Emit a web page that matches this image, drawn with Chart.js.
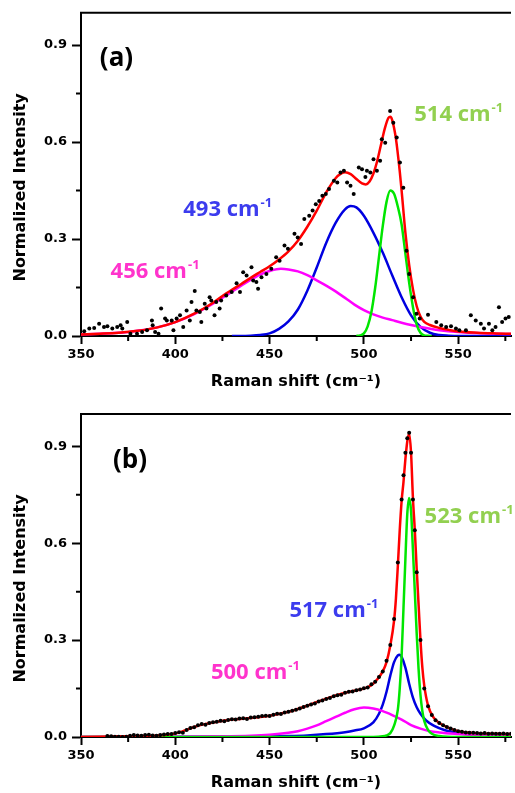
<!DOCTYPE html>
<html lang="en">
<head>
<meta charset="UTF-8">
<title>Raman spectra</title>
<script src="https://cdn.jsdelivr.net/npm/chart.js"></script>
<style>
  html, body { margin: 0; padding: 0; background: #fff; }
  #wrap { position: relative; width: 515px; height: 793px; overflow: hidden; }
  canvas { position: absolute; left: 0; }
  #chartA { top: 0; }
  #chartB { top: 397px; }
</style>
</head>
<body>
<div id="wrap">
  <canvas id="chartA" width="515" height="397"></canvas>
  <canvas id="chartB" width="515" height="396"></canvas>
</div>
<script>
// ---- panel (a) ----
const dotAx = [351.7, 354.4, 357.0, 359.6, 362.2, 364.0, 366.6, 369.2, 371.0, 371.9,
  374.5, 376.2, 379.7, 382.4, 385.0, 387.6, 388.0, 389.3, 391.1, 392.5,
  394.6, 395.5, 398.1, 399.0, 400.7, 402.5, 404.2, 406.0, 407.7, 408.6,
  410.3, 411.2, 413.0, 413.8, 415.6, 416.5, 418.2, 419.1, 420.8, 421.7,
  423.5, 424.3, 427.0, 429.9, 432.5, 434.3, 436.0, 437.8, 440.4, 441.3,
  443.0, 443.9, 445.7, 448.3, 450.9, 453.5, 455.3, 457.9, 459.7, 463.2,
  464.9, 466.7, 468.4, 471.0, 472.8, 474.5, 476.3, 478.0, 479.8, 481.5,
  484.1, 485.9, 487.6, 489.4, 491.1, 492.9, 494.6, 497.3, 499.0, 500.8,
  501.6, 503.4, 505.1, 506.9, 508.6, 509.5, 511.3, 513.9, 515.6, 517.4,
  519.1, 520.9, 522.6, 524.0, 526.1, 527.9, 529.6, 534.0, 538.4, 541.0,
  543.6, 546.2, 548.8, 550.6, 554.1, 556.7, 559.3, 562.0, 563.7, 566.3,
  568.1, 569.8, 571.6, 573.3, 575.1, 576.8];
const dotAy = [0.015, 0.023, 0.025, 0.038, 0.028, 0.030, 0.023, 0.028, 0.033, 0.023,
  0.043, 0.007, 0.007, 0.012, 0.018, 0.048, 0.033, 0.012, 0.007, 0.085,
  0.054, 0.048, 0.048, 0.018, 0.054, 0.064, 0.028, 0.079, 0.048, 0.105,
  0.139, 0.079, 0.074, 0.043, 0.100, 0.085, 0.120, 0.110, 0.064, 0.105,
  0.085, 0.110, 0.125, 0.136, 0.163, 0.136, 0.197, 0.187, 0.213, 0.172,
  0.167, 0.146, 0.182, 0.192, 0.208, 0.244, 0.233, 0.280, 0.270, 0.316,
  0.305, 0.285, 0.362, 0.372, 0.388, 0.408, 0.418, 0.434, 0.439, 0.455,
  0.480, 0.475, 0.506, 0.511, 0.475, 0.465, 0.439, 0.521, 0.516, 0.492,
  0.511, 0.506, 0.547, 0.511, 0.542, 0.609, 0.598, 0.696, 0.660, 0.614,
  0.537, 0.459, 0.264, 0.192, 0.120, 0.069, 0.054, 0.066, 0.043, 0.033,
  0.028, 0.030, 0.023, 0.018, 0.018, 0.064, 0.048, 0.038, 0.023, 0.038,
  0.018, 0.028, 0.089, 0.043, 0.054, 0.059];

const fitAx = [350, 360, 370, 380, 390, 400, 410, 420, 425, 430, 435, 440, 445, 450, 455,
  460, 465, 470, 475, 480, 485, 488, 490, 493, 496, 499, 501, 503, 505, 507,
  509, 511, 513, 514, 515, 517, 519, 520, 522, 524, 526, 528, 530, 532, 535,
  540, 545, 550, 560, 570, 578];
const fitAy = [0.005, 0.007, 0.010, 0.016, 0.026, 0.043, 0.069, 0.103, 0.124, 0.143, 0.161, 0.180, 0.198, 0.216, 0.237,
  0.262, 0.295, 0.338, 0.388, 0.444, 0.488, 0.503, 0.507, 0.501, 0.486, 0.472, 0.469, 0.478, 0.502, 0.540,
  0.590, 0.640, 0.675, 0.678, 0.668, 0.610, 0.510, 0.450, 0.320, 0.220, 0.145, 0.092, 0.060, 0.044, 0.034,
  0.025, 0.019, 0.014, 0.010, 0.008, 0.007];

const pinkAx = [350, 360, 370, 375, 380, 390, 400, 410, 420, 430, 440, 445, 450, 456, 460, 465, 470,
  475, 480, 485, 490, 495, 500, 505, 510, 515, 520, 525, 530, 540, 550, 560, 570, 578];
const pinkAy = [0.005, 0.007, 0.010, 0.012, 0.016, 0.026, 0.043, 0.068, 0.100, 0.137, 0.174, 0.190, 0.201, 0.208, 0.206, 0.200, 0.188,
  0.172, 0.156, 0.138, 0.118, 0.097, 0.080, 0.067, 0.057, 0.049, 0.041, 0.034, 0.028, 0.018, 0.012, 0.009, 0.007, 0.006];

const blueAx = [430, 440, 445, 450, 455, 460, 465, 470, 475, 480, 485, 490, 493, 496, 500,
  505, 510, 515, 520, 525, 530, 535, 540, 545, 550, 578];
const blueAy = [0, 0.001, 0.003, 0.008, 0.022, 0.045, 0.082, 0.140, 0.212, 0.288, 0.350, 0.392, 0.402, 0.398, 0.372,
  0.320, 0.258, 0.188, 0.120, 0.064, 0.028, 0.010, 0.003, 0.001, 0, 0];

const greenAx = [496, 498, 500, 502, 504, 506, 508, 510, 512, 514, 516, 518, 520, 522, 524, 526, 528, 530, 532, 534, 536];
const greenAy = [0, 0.002, 0.008, 0.030, 0.075, 0.150, 0.245, 0.340, 0.415, 0.450, 0.440, 0.400, 0.345, 0.255, 0.165, 0.090, 0.035, 0.010, 0.002, 0.001, 0];

// ---- panel (b) ----
const dotBx = [364, 366, 368, 370, 372, 374, 376, 378, 380, 382,
  384, 386, 388, 390, 392, 394, 396, 398, 400, 402,
  404, 406, 408, 410, 412, 414, 416, 418, 420, 422,
  424, 426, 428, 430, 432, 434, 436, 438, 440, 442,
  444, 446, 448, 450, 452, 454, 456, 458, 460, 462,
  464, 466, 468, 470, 472, 474, 476, 478, 480, 482,
  484, 486, 488, 490, 492, 494, 496, 498, 500, 502,
  504, 506, 508, 510, 512, 514, 516, 518,
  520, 521, 522, 523, 524, 525, 526, 527, 528,
  530, 532, 534, 536, 538, 540, 542, 544, 546, 548,
  550, 552, 554, 556, 558, 560, 562, 564, 566, 568,
  570, 572, 574, 576, 578];
const dotBy = [0.003, 0.002, 0.001, 0.001, 0.000, 0.001, 0.004, 0.006, 0.005, 0.004,
  0.006, 0.007, 0.005, 0.004, 0.006, 0.008, 0.009, 0.009, 0.012, 0.015,
  0.013, 0.022, 0.028, 0.030, 0.036, 0.040, 0.038, 0.043, 0.046, 0.047,
  0.050, 0.049, 0.053, 0.055, 0.054, 0.057, 0.058, 0.056, 0.060, 0.061,
  0.063, 0.065, 0.066, 0.065, 0.069, 0.072, 0.071, 0.076, 0.078, 0.081,
  0.084, 0.088, 0.093, 0.097, 0.101, 0.104, 0.110, 0.113, 0.118, 0.121,
  0.126, 0.129, 0.131, 0.137, 0.140, 0.141, 0.145, 0.147, 0.151, 0.153,
  0.163, 0.171, 0.186, 0.203, 0.236, 0.285, 0.365, 0.540,
  0.735, 0.810, 0.880, 0.925, 0.942, 0.880, 0.735, 0.640, 0.510,
  0.300, 0.150, 0.095, 0.068, 0.052, 0.043, 0.036, 0.031, 0.026, 0.022,
  0.018, 0.016, 0.014, 0.013, 0.013, 0.012, 0.011, 0.012, 0.010, 0.011,
  0.010, 0.010, 0.011, 0.009, 0.010];

const fitBx = [350, 370, 380, 390, 400, 405, 410, 415, 420, 430, 440, 450, 460, 470, 480, 490,
  500, 504, 507, 510, 512, 514, 516, 517, 518, 519, 520, 521, 522, 523, 524, 525,
  526, 527, 528, 529, 530, 531, 532, 534, 537, 540, 545, 550, 560, 570, 578];
const fitBy = [0.000, 0.002, 0.003, 0.005, 0.011, 0.020, 0.031, 0.039, 0.045, 0.054, 0.059, 0.066, 0.078, 0.097, 0.119, 0.137,
  0.150, 0.160, 0.178, 0.203, 0.232, 0.283, 0.360, 0.430, 0.530, 0.640, 0.730, 0.790, 0.860, 0.915, 0.940, 0.880,
  0.740, 0.640, 0.520, 0.410, 0.300, 0.215, 0.160, 0.098, 0.060, 0.043, 0.028, 0.018, 0.012, 0.010, 0.009];

const pinkBx = [350, 400, 420, 440, 450, 460, 465, 470, 475, 480, 485, 490, 495, 500, 505, 510,
  515, 520, 525, 530, 535, 540, 550, 560, 570, 578];
const pinkBy = [0.000, 0.001, 0.002, 0.004, 0.007, 0.013, 0.018, 0.026, 0.036, 0.049, 0.062, 0.075, 0.086, 0.091, 0.088, 0.080,
  0.068, 0.054, 0.037, 0.026, 0.018, 0.014, 0.009, 0.005, 0.003, 0.002];

const blueBx = [350, 420, 450, 460, 470, 480, 490, 495, 500, 505, 508, 510, 512, 514, 516, 518, 519, 520,
  522, 524, 526, 528, 530, 533, 537, 543, 550, 560, 570, 578];
const blueBy = [0, 0.001, 0.002, 0.003, 0.005, 0.009, 0.015, 0.020, 0.027, 0.045, 0.072, 0.100, 0.140, 0.190, 0.232, 0.253, 0.255, 0.248,
  0.215, 0.165, 0.122, 0.092, 0.072, 0.051, 0.035, 0.021, 0.014, 0.009, 0.006, 0.005];

const greenBx = [350, 505, 510, 512, 514, 516, 518, 519, 520, 521, 522, 523, 524, 525, 526, 527,
  528, 529, 530, 531, 532, 534, 536, 540, 550, 578];
const greenBy = [0, 0, 0.002, 0.005, 0.012, 0.035, 0.085, 0.150, 0.250, 0.400, 0.550, 0.690, 0.740, 0.700, 0.580, 0.450,
  0.320, 0.210, 0.130, 0.080, 0.050, 0.022, 0.010, 0.003, 0, 0];

const xTicksMinor = [375, 425, 475, 525, 575];
const yTicksMinor = [0.15, 0.45, 0.75];

const pts = (xs, ys) => xs.map((x, i) => ({ x: x, y: ys[i] }));

function curve(xs, ys, color) {
  return {
    data: pts(xs, ys),
    borderColor: color,
    borderWidth: 2.5,
    pointRadius: 0,
    fill: false,
    cubicInterpolationMode: 'monotone'
  };
}

const tickFont = { family: 'DejaVu Sans', size: 13, weight: 'bold' };

// top border, minor ticks, axis titles and peak labels
const extras = {
  id: 'extras',
  afterDraw(chart, args, opts) {
    const ctx = chart.ctx;
    const a = chart.chartArea;
    const x = chart.scales.x, y = chart.scales.y;
    ctx.save();
    ctx.strokeStyle = '#000';
    ctx.lineWidth = 2;
    ctx.beginPath();
    ctx.moveTo(a.left - 1, a.top);
    ctx.lineTo(a.right, a.top);
    ctx.stroke();

    ctx.beginPath();
    xTicksMinor.forEach(v => {
      const px = x.getPixelForValue(v);
      ctx.moveTo(px, a.bottom);
      ctx.lineTo(px, a.bottom + 5);
    });
    yTicksMinor.forEach(v => {
      const py = y.getPixelForValue(v);
      ctx.moveTo(a.left, py);
      ctx.lineTo(a.left - 5, py);
    });
    ctx.stroke();

    ctx.fillStyle = '#000';
    ctx.font = 'bold 16px "DejaVu Sans"';
    ctx.textAlign = 'center';
    ctx.textBaseline = 'middle';
    ctx.fillText('Raman shift (cm\u207B\u00B9)', (a.left + a.right) / 2, a.bottom + 46);
    ctx.save();
    ctx.translate(21, (a.top + a.bottom) / 2 + 13);
    ctx.rotate(-Math.PI / 2);
    ctx.fillText('Normalized Intensity', 0, 0);
    ctx.restore();

    ctx.textAlign = 'left';
    ctx.textBaseline = 'alphabetic';
    ctx.font = 'bold 26px "Open Sans"';
    ctx.fillText(opts.panel, x.getPixelForValue(opts.panelAt[0]), y.getPixelForValue(opts.panelAt[1]));

    opts.peaks.forEach(p => {
      const px = x.getPixelForValue(p.at[0]);
      const py = y.getPixelForValue(p.at[1]);
      ctx.fillStyle = p.color;
      ctx.font = 'bold 22px "Open Sans"';
      ctx.fillText(p.text + ' cm', px, py);
      const w = ctx.measureText(p.text + ' cm').width;
      ctx.font = 'bold 13px "Open Sans"';
      ctx.fillText('-1', px + w + 1, py - 9);
    });
    ctx.restore();
  }
};

function makePanel(id, p) {
  new Chart(document.getElementById(id), {
    type: 'line',
    data: {
      datasets: [
        { data: pts(p.dx, p.dy), showLine: false, pointRadius: 2, pointBorderWidth: 0,
          pointBackgroundColor: '#000', borderColor: '#000' },
        curve(p.fx, p.fy, '#ff0000'),
        curve(p.gx, p.gy, '#00e600'),
        curve(p.mx, p.my, '#ff00ff'),
        curve(p.bx, p.by, '#0000e0')
      ]
    },
    plugins: [extras],
    options: {
      responsive: false,
      animation: false,
      devicePixelRatio: 1,
      layout: { padding: { top: p.top, left: 0, right: 0, bottom: 0 } },
      plugins: {
        legend: { display: false },
        tooltip: { enabled: false },
        extras: { panel: p.panel, panelAt: p.panelAt, peaks: p.peaks }
      },
      scales: {
        x: {
          type: 'linear', min: 350, max: 578,
          afterFit: s => { s.height = p.xh; },
          border: { display: true, width: 2, color: '#000' },
          grid: { drawOnChartArea: false, drawTicks: true, tickLength: 8, tickWidth: 2, tickColor: '#000' },
          ticks: { stepSize: 50, includeBounds: false, color: '#000', font: tickFont, padding: 3, maxRotation: 0 }
        },
        y: {
          type: 'linear', min: 0, max: 1.0,
          afterFit: s => { s.width = 81; },
          border: { display: true, width: 2, color: '#000' },
          grid: { drawOnChartArea: false, drawTicks: true, tickLength: 9, tickWidth: 2, tickColor: '#000' },
          ticks: { stepSize: 0.3, includeBounds: false, color: '#000', font: tickFont, padding: 5,
            callback: v => v.toFixed(1) }
        }
      }
    }
  });
}

makePanel('chartA', {
  dx: dotAx, dy: dotAy, fx: fitAx, fy: fitAy, gx: greenAx, gy: greenAy,
  mx: pinkAx, my: pinkAy, bx: blueAx, by: blueAy,
  top: 12, xh: 61,
  panel: '(a)', panelAt: [360, 0.835],
  peaks: [
    { text: '514', at: [526.7, 0.665], color: '#92d050' },
    { text: '493', at: [404.2, 0.372], color: '#3c3cee' },
    { text: '456', at: [365.7, 0.180], color: '#ff33cc' }
  ]
});

makePanel('chartB', {
  dx: dotBx, dy: dotBy, fx: fitBx, fy: fitBy, gx: greenBx, gy: greenBy,
  mx: pinkBx, my: pinkBy, bx: blueBx, by: blueBy,
  top: 17, xh: 56,
  panel: '(b)', panelAt: [367, 0.834],
  peaks: [
    { text: '523', at: [532.2, 0.662], color: '#92d050' },
    { text: '517', at: [460.5, 0.372], color: '#3c3cee' },
    { text: '500', at: [418.9, 0.180], color: '#ff33cc' }
  ]
});
</script>
</body>
</html>
